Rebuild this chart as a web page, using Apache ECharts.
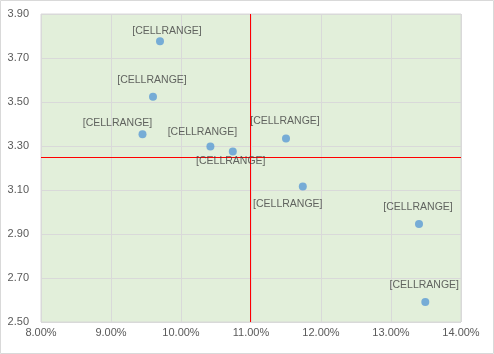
<!DOCTYPE html>
<html>
<head>
<meta charset="utf-8">
<script src="https://cdn.jsdelivr.net/npm/echarts@6/dist/echarts.min.js"></script>
<style>
  html, body { margin: 0; padding: 0; background: #fff; }
  #chart { width: 494px; height: 354px; }
</style>
</head>
<body>
<div id="chart"></div>
<script>
// x in percent, y raw
var xValues = [9.70, 9.60, 9.45, 10.42, 10.74, 11.50, 11.74, 13.40, 13.49];
var yValues = [3.776, 3.524, 3.353, 3.298, 3.275, 3.334, 3.116, 2.946, 2.591];
var pointLabels = ['[CELLRANGE]', '[CELLRANGE]', '[CELLRANGE]', '[CELLRANGE]', '[CELLRANGE]',
                   '[CELLRANGE]', '[CELLRANGE]', '[CELLRANGE]', '[CELLRANGE]'];
var xRefLine = 11;
var yRefLine = 3.25;

var X_MIN = 8, X_MAX = 14;
// y axis runs 2.50 .. 3.90, step 0.20 -> shift so min is 0
var Y_BASE = 2.5, Y_MAX = 3.9;

// where each label sits relative to its point (dragged labels in the source)
var labelOffsets = [[7, -10], [-1, -17], [-25, -11], [-8, -14], [-2, 10],
                    [-1, -17], [-15, 18], [-1, -17], [-1, -17]];

var myChart = echarts.init(document.getElementById('chart'));

var pts = xValues.map(function (x, i) {
    return {
        value: [x, yValues[i] - Y_BASE],
        name: pointLabels[i],
        label: { offset: labelOffsets[i] }
    };
});

var option = {
    animation: false,
    textStyle: { fontFamily: 'Liberation Sans' },
    grid: {
        left: 41, right: 33, top: 14, bottom: 32,
        containLabel: false,
        outerBoundsMode: 'none',
        show: true,
        backgroundColor: '#e2efda',
        borderColor: '#d9d9d9',
        borderWidth: 1
    },
    xAxis: {
        type: 'value',
        min: X_MIN, max: X_MAX, interval: 1,
        axisLine: { show: false },
        axisTick: { show: false },
        splitLine: { show: true, lineStyle: { color: '#d9d9d9', width: 1 } },
        axisLabel: {
            color: '#595959', fontSize: 11, margin: 5,
            formatter: function (v) { return v.toFixed(2) + '%'; }
        }
    },
    yAxis: {
        type: 'value',
        min: 0, max: Y_MAX - Y_BASE, interval: 0.2,
        axisLine: { show: false },
        axisTick: { show: false },
        splitLine: { show: true, lineStyle: { color: '#d9d9d9', width: 1 } },
        axisLabel: {
            color: '#595959', fontSize: 11, margin: 12,
            formatter: function (v) { return (v + Y_BASE).toFixed(2); }
        }
    },
    series: [{
        type: 'scatter',
        symbolSize: 8,
        z: 3,
        itemStyle: { color: '#5b9bd5' },
        label: {
            show: true,
            position: 'inside',
            formatter: '{b}',
            color: '#404040',
            fontSize: 10.5
        },
        data: pts
    }]
};

myChart.setOption(option);

// reference lines, placed through the chart's own scales, snapped to whole pixels
function drawRefLines() {
    var lo = myChart.convertToPixel({ gridIndex: 0 }, [X_MIN, 0]);
    var hi = myChart.convertToPixel({ gridIndex: 0 }, [X_MAX, Y_MAX - Y_BASE]);
    var ref = myChart.convertToPixel({ gridIndex: 0 }, [xRefLine, yRefLine - Y_BASE]);
    var rx = Math.round(ref[0]) - 0.5;
    var ry = Math.round(ref[1]) + 0.5;
    var red = { stroke: '#ff0000', lineWidth: 1 };
    myChart.setOption({
        graphic: [
            {
                id: 'border', type: 'rect', silent: true,
                shape: { x: 0.5, y: 0.5, width: 493, height: 353 },
                style: { fill: 'none', stroke: '#d9d9d9', lineWidth: 1 }
            },
            {
                id: 'vline', type: 'line', silent: true, z: 2,
                shape: { x1: rx, y1: hi[1], x2: rx, y2: lo[1] },
                style: red
            },
            {
                id: 'hline', type: 'line', silent: true, z: 2,
                shape: { x1: lo[0], y1: ry, x2: hi[0], y2: ry },
                style: red
            }
        ]
    });
}
drawRefLines();

window.addEventListener('resize', function () {
    myChart.resize();
    drawRefLines();
});
</script>
</body>
</html>
